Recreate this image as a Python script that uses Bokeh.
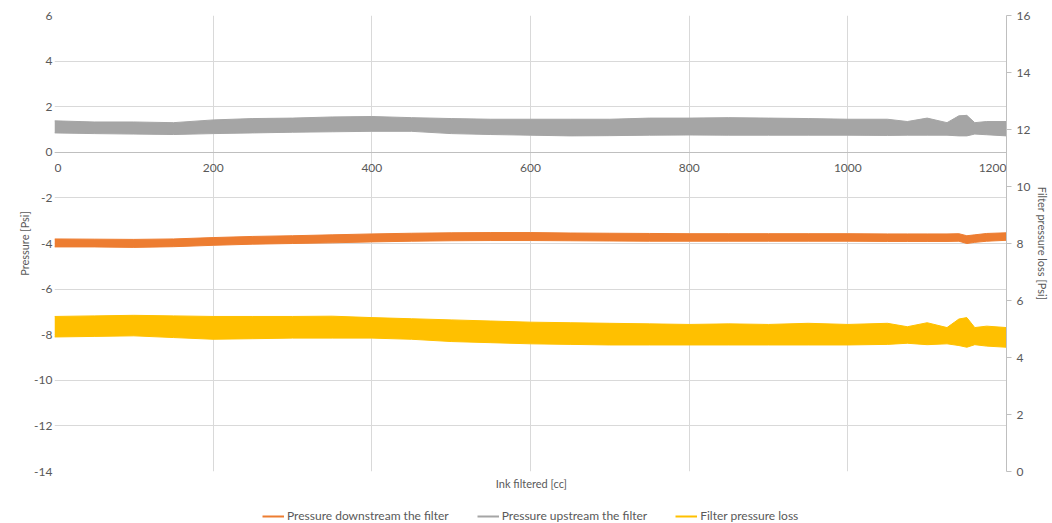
from bokeh.plotting import figure
from bokeh.layouts import column
from bokeh.models import (Range1d, LinearAxis, FixedTicker, Legend, LegendItem, Label,
                          LabelSet, ColumnDataSource)
from bokeh.core.properties import value
from bokeh.embed import file_html
from bokeh.resources import INLINE

# ---- data ----
cc = [0, 50, 100, 150, 200, 250, 300, 350, 400, 450, 500, 550, 600, 650, 700, 750,
      800, 850, 900, 950, 1000, 1050, 1075, 1100, 1125, 1140, 1150, 1160, 1175, 1200]

# Pressure upstream the filter (left axis) – band envelope
up_hi = [1.38, 1.33, 1.33, 1.30, 1.42, 1.48, 1.50, 1.55, 1.57, 1.52, 1.48, 1.45, 1.45, 1.45, 1.45, 1.50,
         1.50, 1.52, 1.50, 1.48, 1.45, 1.45, 1.35, 1.50, 1.30, 1.60, 1.62, 1.30, 1.35, 1.35]
up_lo = [0.85, 0.82, 0.80, 0.78, 0.82, 0.85, 0.88, 0.90, 0.92, 0.92, 0.82, 0.78, 0.75, 0.72, 0.73, 0.75,
         0.76, 0.75, 0.75, 0.75, 0.75, 0.74, 0.75, 0.75, 0.75, 0.72, 0.72, 0.80, 0.77, 0.72]

# Pressure downstream the filter (left axis)
dn_hi = [-3.80, -3.81, -3.82, -3.80, -3.74, -3.69, -3.66, -3.62, -3.58, -3.55, -3.53, -3.52, -3.52, -3.54, -3.55, -3.56,
         -3.57, -3.57, -3.57, -3.57, -3.57, -3.58, -3.58, -3.58, -3.58, -3.57, -3.66, -3.62, -3.56, -3.53]
dn_lo = [-4.15, -4.15, -4.17, -4.14, -4.08, -4.03, -4.00, -3.97, -3.93, -3.90, -3.88, -3.87, -3.87, -3.88, -3.89, -3.90,
         -3.90, -3.90, -3.90, -3.90, -3.90, -3.91, -3.91, -3.91, -3.91, -3.90, -4.00, -3.95, -3.90, -3.86]

# Filter pressure loss (right axis)
loss_hi = [5.44, 5.46, 5.48, 5.46, 5.44, 5.44, 5.44, 5.45, 5.40, 5.36, 5.32, 5.28, 5.24, 5.22, 5.20, 5.18,
           5.16, 5.18, 5.16, 5.20, 5.16, 5.20, 5.08, 5.22, 5.05, 5.35, 5.40, 5.05, 5.10, 5.05]
loss_lo = [4.72, 4.74, 4.76, 4.70, 4.64, 4.66, 4.68, 4.68, 4.68, 4.64, 4.56, 4.52, 4.48, 4.46, 4.44, 4.44,
           4.44, 4.44, 4.44, 4.44, 4.44, 4.46, 4.50, 4.45, 4.48, 4.42, 4.36, 4.45, 4.40, 4.36]

x_ticks = [0, 200, 400, 600, 800, 1000, 1200]
x_tick_labels = ["0", "200", "400", "600", "800", "1000", "1200"]
left_ticks = [-14, -12, -10, -8, -6, -4, -2, 0, 2, 4, 6]
right_ticks = [0, 2, 4, 6, 8, 10, 12, 14, 16]

labels = ["Pressure downstream the filter", "Pressure upstream the filter", "Filter pressure loss"]
colors = ["#ED7D31", "#A5A5A5", "#FFC000"]

FONT = "Lato"
TXT = "#595959"
GRID = "#d9d9d9"

# ---------------- main chart ----------------
p = figure(width=1052, height=477, x_range=Range1d(0, 1200), y_range=Range1d(-14, 6),
           output_backend="svg", toolbar_location=None,
           min_border_left=54, min_border_right=46, min_border_top=15, min_border_bottom=6)
p.outline_line_color = None
p.extra_y_ranges = {"right": Range1d(0, 16)}

# x axis crossing at y=0 (its labels are drawn by a LabelSet)
xa = p.xaxis[0]
xa.fixed_location = 0
xa.ticker = FixedTicker(ticks=x_ticks)
xa.axis_line_color = "#bfbfbf"
xa.major_tick_line_color = None
xa.major_tick_out = 0
xa.major_tick_in = 0
xa.minor_tick_line_color = None
xa.minor_tick_out = 0
xa.major_label_standoff = 0
xa.major_label_text_font_size = "0px"
xa.major_label_text_color = None

ya = p.yaxis[0]
ya.ticker = FixedTicker(ticks=left_ticks)
ya.major_label_overrides = {t: str(t) for t in left_ticks}
ya.axis_line_color = None
ya.major_tick_line_color = None
ya.major_tick_out = 0
ya.minor_tick_line_color = None
ya.minor_tick_out = 0
ya.major_label_text_font = FONT
ya.major_label_text_font_size = "12px"
ya.major_label_text_color = TXT
ya.axis_label = "Pressure [Psi]"
ya.axis_label_text_font = FONT
ya.axis_label_text_font_style = "normal"
ya.axis_label_text_font_size = "11px"
ya.axis_label_text_color = TXT
ya.axis_label_standoff = 0
ya.major_label_standoff = 2

ra = LinearAxis(y_range_name="right", ticker=FixedTicker(ticks=right_ticks))
ra.axis_line_color = "#bfbfbf"
ra.major_tick_line_color = "#bfbfbf"
ra.major_tick_out = 5
ra.major_tick_in = 0
ra.minor_tick_line_color = None
ra.minor_tick_out = 0
ra.major_label_text_font = FONT
ra.major_label_text_font_size = "12px"
ra.major_label_text_color = TXT
ra.major_label_standoff = 5
ra.axis_label = "Filter pressure loss [Psi]"
ra.axis_label_text_font = FONT
ra.axis_label_text_font_style = "normal"
ra.axis_label_text_font_size = "11px"
ra.axis_label_text_color = TXT
ra.axis_label_standoff = 3
p.add_layout(ra, "right")

p.xgrid.ticker = FixedTicker(ticks=x_ticks)
p.ygrid.ticker = FixedTicker(ticks=left_ticks)
p.xgrid.grid_line_color = GRID
p.ygrid.grid_line_color = GRID

# bands
p.varea(x=cc, y1=up_lo, y2=up_hi, fill_color=colors[1])
p.line(cc, up_hi, line_color=colors[1], line_width=1)
p.line(cc, up_lo, line_color=colors[1], line_width=1)

p.varea(x=cc, y1=dn_lo, y2=dn_hi, fill_color=colors[0])
p.line(cc, dn_hi, line_color=colors[0], line_width=1)
p.line(cc, dn_lo, line_color=colors[0], line_width=1)

p.varea(x=cc, y1=loss_lo, y2=loss_hi, fill_color=colors[2], y_range_name="right")
p.line(cc, loss_hi, line_color=colors[2], line_width=1, y_range_name="right")
p.line(cc, loss_lo, line_color=colors[2], line_width=1, y_range_name="right")

# x tick labels at the y=0 axis line (end labels kept inside the frame)
x_align = ["left"] + ["center"] * (len(x_ticks) - 2) + ["right"]
xsrc = ColumnDataSource(dict(x=x_ticks, y=[0] * len(x_ticks), t=x_tick_labels, a=x_align))
p.add_layout(LabelSet(x="x", y="y", text="t", source=xsrc, y_offset=-12,
                      text_align="a", text_baseline="top",
                      text_font=value(FONT), text_font_size=value("12px"), text_color=TXT))

# ---------------- strip below: axis title + legend ----------------
b = figure(width=1052, height=46, x_range=Range1d(0, 1052), y_range=Range1d(0, 46),
           output_backend="svg", toolbar_location=None,
           x_axis_location=None, y_axis_location=None,
           min_border_left=0, min_border_right=0, min_border_top=0, min_border_bottom=0)
b.outline_line_color = None
b.grid.visible = False
b.add_layout(Label(x=527, y=40, text="Ink filtered [cc]", text_align="center",
                   text_baseline="middle", text_font=FONT, text_font_size="11px", text_color=TXT))

# legend proxies: the series drawn on an off-screen range of this strip
b.extra_y_ranges = {"off": Range1d(100, 200)}
leg_rs = [b.line(cc, dn_hi, line_color=colors[0], line_width=2, y_range_name="off"),
          b.line(cc, up_hi, line_color=colors[1], line_width=2, y_range_name="off"),
          b.line(cc, loss_hi, line_color=colors[2], line_width=2, y_range_name="off")]
legend = Legend(items=[LegendItem(label=l, renderers=[r]) for l, r in zip(labels, leg_rs)],
                orientation="horizontal", location=(208, 0),
                border_line_color=None, background_fill_alpha=0,
                label_text_font=FONT, label_text_font_size="12px", label_text_color=TXT,
                glyph_width=22, glyph_height=10, label_standoff=3, spacing=28,
                padding=2, margin=0)
b.add_layout(legend, "center")

open("out.html", "w").write(file_html(column(p, b, spacing=0), INLINE))
